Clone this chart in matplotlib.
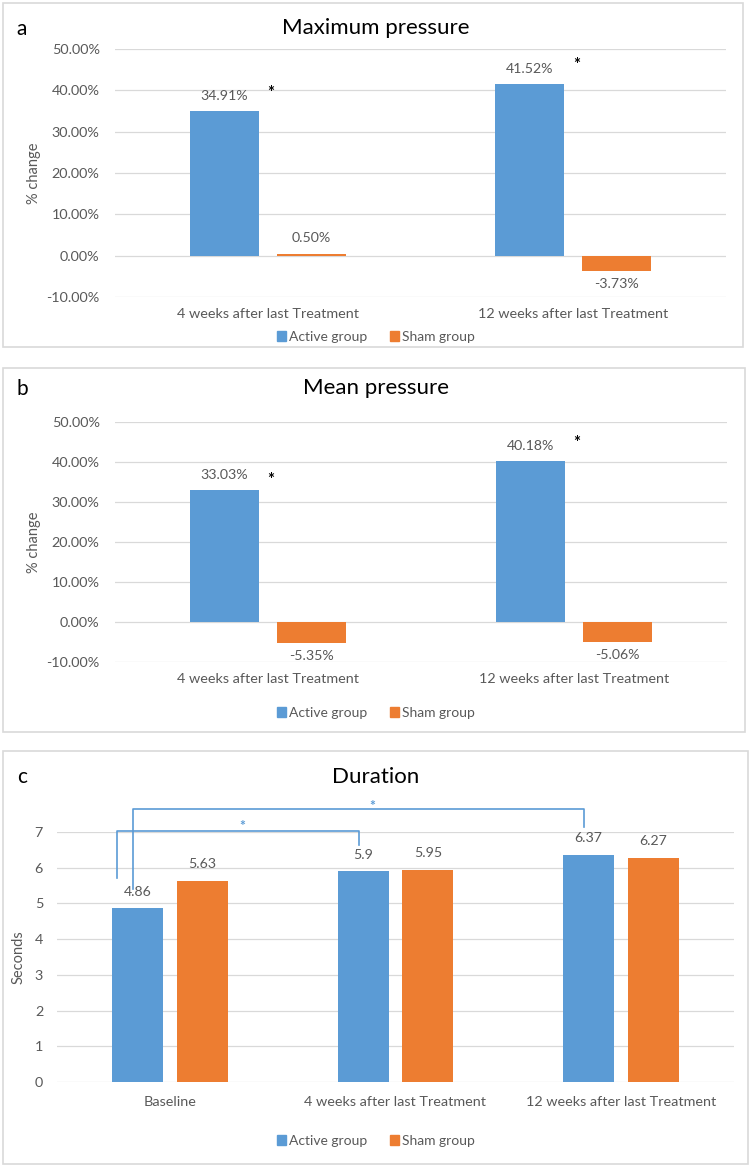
import numpy as np
import matplotlib.pyplot as plt
from matplotlib.patches import Rectangle, Patch

plt.rcParams['font.family'] = ['Lato', 'DejaVu Sans']

# data
groups = ["Active group", "Sham group"]
pct_categories = ["4 weeks after last Treatment", "12 weeks after last Treatment"]
max_active = [34.91, 41.52]
max_sham = [0.50, -3.73]
mean_active = [33.03, 40.18]
mean_sham = [-5.35, -5.06]
max_star_y = [40.5, 47.3]
mean_star_y = [36.8, 46.0]

dur_categories = ["Baseline", "4 weeks after last Treatment", "12 weeks after last Treatment"]
dur_active = [4.86, 5.9, 6.37]
dur_sham = [5.63, 5.95, 6.27]

BLUE = "#5B9BD5"
ORANGE = "#ED7D31"
GRAY = "#595959"
GRID = "#D9D9D9"

W, H = 752, 1166
fig = plt.figure(figsize=(W / 100, H / 100), dpi=100)


def fx(px):
    return px / W


def fy(py):
    return 1 - py / H


def axes_px(x0, y0, x1, y1):
    return fig.add_axes([fx(x0), fy(y1), fx(x1 - x0), (y1 - y0) / H])


def border(x0, y0, x1, y1):
    fig.patches.append(Rectangle((fx(x0), fy(y1)), fx(x1 - x0), (y1 - y0) / H,
                                 transform=fig.transFigure, fill=False,
                                 edgecolor=GRID, lw=1.2))


def style(ax, ylim, yticks, fmt, xpad, ypad):
    ax.set_ylim(*ylim)
    ax.set_yticks(yticks)
    ax.set_yticklabels([fmt(t) for t in yticks])
    for s in ax.spines.values():
        s.set_visible(False)
    ax.tick_params(length=0, colors=GRAY, labelsize=10.4)
    ax.tick_params(axis='x', pad=xpad)
    ax.tick_params(axis='y', pad=ypad)
    ax.grid(axis='y', color=GRID, lw=0.9)
    ax.set_axisbelow(True)


def legend(py):
    handles = [Patch(color=BLUE), Patch(color=ORANGE)]
    fig.legend(handles, groups, loc='center', bbox_to_anchor=(0.5, fy(py)),
               ncol=2, frameon=False, fontsize=10, labelcolor=GRAY,
               handlelength=0.65, handleheight=0.65, handletextpad=0.25,
               columnspacing=1.6)


def pct_panel(box, ax_box, letter, title, title_y, active, sham, star_y, legend_y):
    border(*box)
    ax = axes_px(*ax_box)
    x = np.arange(len(pct_categories))
    off, w = 0.142, 0.226
    ax.bar(x - off, active, w, color=BLUE)
    ax.bar(x + off, sham, w, color=ORANGE)
    ax.set_xlim(-0.5, len(x) - 0.5)
    style(ax, (-10, 50), np.arange(-10, 51, 10), lambda t: f"{t:.2f}%", 8, 11)
    ax.set_xticks(x)
    ax.set_xticklabels(pct_categories)
    ax.set_ylabel("% change", color=GRAY, fontsize=10.5)
    ax.yaxis.set_label_coords((41 - ax_box[0]) / (ax_box[2] - ax_box[0]), 0.5)
    for i in range(len(x)):
        for xi, v in ((x[i] - off, active[i]), (x[i] + off, sham[i])):
            dy = 11 if v >= 0 else -9
            ax.annotate(f"{v:.2f}%", (xi, v), xytext=(0, dy), textcoords='offset points',
                        ha='center', va='center', color=GRAY, fontsize=10.2)
        ax.annotate("*", (x[i] + 0.01, star_y[i]), xytext=(0, -3.5),
                    textcoords='offset points', ha='center', va='center',
                    fontsize=12, fontweight='bold', color='black')
    fig.text(fx(22), fy(title_y), letter, fontsize=15, ha='center', va='center')
    fig.text(0.5, fy(title_y - 1), title, fontsize=16, ha='center', va='center')
    legend(legend_y)


pct_panel((3, 3, 743, 347), (115, 49, 726, 297), "a", "Maximum pressure", 29,
          max_active, max_sham, max_star_y, 337)
pct_panel((3, 368, 745, 732), (115, 422, 727, 662), "b", "Mean pressure", 389,
          mean_active, mean_sham, mean_star_y, 713)

# panel c
border(3, 751, 748, 1164)
box_c = (57, 832, 734, 1082)
ax = axes_px(*box_c)
x = np.arange(len(dur_categories))
off, w = 0.144, 0.226
ax.bar(x - off, dur_active, w, color=BLUE)
ax.bar(x + off, dur_sham, w, color=ORANGE)
ax.set_xlim(-0.5, len(x) - 0.5)
style(ax, (0, 7), np.arange(0, 8), lambda t: f"{t:d}", 10, 10)
ax.set_xticks(x)
ax.set_xticklabels(dur_categories)
ax.set_ylabel("Seconds", color=GRAY, fontsize=10.5)
ax.yaxis.set_label_coords((26 - box_c[0]) / (box_c[2] - box_c[0]), 0.5)
for i in range(len(x)):
    for xi, v in ((x[i] - off, dur_active[i]), (x[i] + off, dur_sham[i])):
        ax.annotate(f"{v:g}", (xi, v), xytext=(0, 12), textcoords='offset points',
                    ha='center', va='center', color=GRAY, fontsize=10.2)

# significance brackets
ax.plot([-0.235, -0.235, 0.838, 0.838], [5.7, 7.03, 7.03, 6.64],
        color=BLUE, lw=1.2, clip_on=False)
ax.plot([-0.165, -0.165, 1.835, 1.835], [5.4, 7.65, 7.65, 7.14],
        color=BLUE, lw=1.2, clip_on=False)
ax.text(0.32, 7.17, "*", color=BLUE, fontsize=10, fontweight='bold',
        ha='center', va='center', clip_on=False)
ax.text(0.896, 7.73, "*", color=BLUE, fontsize=10, fontweight='bold',
        ha='center', va='center', clip_on=False)

fig.text(fx(22), fy(777), "c", fontsize=15, ha='center', va='center')
fig.text(0.5, fy(777), "Duration", fontsize=16, ha='center', va='center')
legend(1141)

fig.savefig("out.png", dpi=100)
